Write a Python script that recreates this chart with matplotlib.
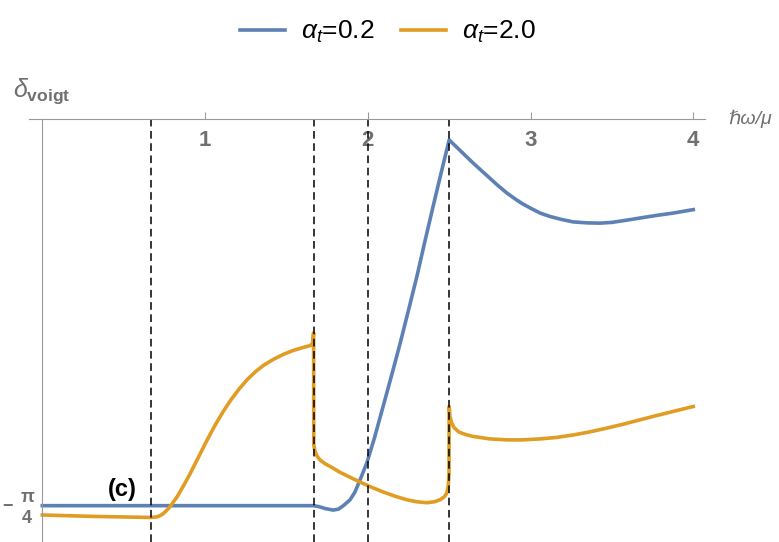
import numpy as np
import matplotlib
matplotlib.use('Agg')
import matplotlib.pyplot as plt

plt.rcParams['mathtext.fontset'] = 'custom'
plt.rcParams['mathtext.rm'] = 'Liberation Sans'
plt.rcParams['mathtext.it'] = 'Liberation Sans:italic'
plt.rcParams['mathtext.bf'] = 'Liberation Sans:bold'
plt.rcParams['font.family'] = ['Liberation Sans', 'DejaVu Sans']

# curves (x in hbar*omega/mu)
x_blue = [0, 1.667, 1.70, 1.74, 1.787, 1.82, 1.85, 1.891, 1.92, 1.953, 1.994,
          2.04, 2.094, 2.15, 2.199, 2.25, 2.301, 2.35, 2.401, 2.45, 2.5,
          2.55, 2.6, 2.647, 2.7, 2.75, 2.8, 2.854, 2.9, 2.95, 3.0, 3.059, 3.12,
          3.19, 3.262, 3.35, 3.428, 3.5, 3.6, 3.674, 3.77, 3.877, 4.0]
y_blue = [-0.787, -0.787, -0.789, -0.793, -0.796, -0.794, -0.787, -0.775, -0.760,
          -0.734, -0.700, -0.650, -0.585, -0.517, -0.456, -0.389, -0.321, -0.250,
          -0.178, -0.110, -0.042, -0.058, -0.074, -0.089, -0.105, -0.120, -0.135,
          -0.150, -0.161, -0.172, -0.181, -0.191, -0.198, -0.204, -0.209, -0.211,
          -0.2115, -0.210, -0.205, -0.201, -0.196, -0.191, -0.184]

x_orange = [0, 0.33, 0.667, 0.70, 0.72, 0.74, 0.76, 0.785, 0.83, 0.87, 0.908,
            0.96, 1.01, 1.06, 1.11, 1.16, 1.21, 1.26, 1.31, 1.36, 1.42, 1.48,
            1.54, 1.60, 1.645, 1.660, 1.667, 1.668, 1.675, 1.69, 1.707, 1.74,
            1.768, 1.829, 1.89, 1.953, 2.02, 2.094, 2.17, 2.24, 2.30, 2.363,
            2.41, 2.444, 2.47, 2.486, 2.495, 2.499, 2.5, 2.505, 2.515, 2.53,
            2.56, 2.6, 2.647, 2.75, 2.854, 2.95, 3.059, 3.16, 3.262, 3.36,
            3.469, 3.57, 3.674, 3.78, 3.877, 4.0]
y_orange = [-0.806, -0.809, -0.811, -0.810, -0.808, -0.804, -0.798, -0.789, -0.768,
            -0.745, -0.722, -0.688, -0.655, -0.624, -0.596, -0.571, -0.549, -0.530,
            -0.514, -0.501, -0.489, -0.479, -0.471, -0.465, -0.461, -0.457, -0.435,
            -0.663, -0.676, -0.687, -0.694, -0.702, -0.707, -0.719, -0.729, -0.739,
            -0.749, -0.759, -0.768, -0.775, -0.779, -0.781, -0.779, -0.775, -0.769,
            -0.761, -0.745, -0.720, -0.585, -0.605, -0.618, -0.628, -0.637, -0.642,
            -0.646, -0.651, -0.653, -0.653, -0.651, -0.648, -0.643, -0.637, -0.629,
            -0.621, -0.612, -0.603, -0.595, -0.585]

v_lines = [2 / 3, 5 / 3, 2.0, 2.5]
x_ticks = [1, 2, 3, 4]
labels = [r'$\alpha_t$=0.2', r'$\alpha_t$=2.0']

blue = '#5E81B5'
orange = '#E19C24'
gray = '#707070'

fig = plt.figure(figsize=(7.79, 5.42), dpi=100)
ax = fig.add_axes([0.0376, 0.0, 0.8676, 0.7799])

ax.plot(x_blue, y_blue, color=blue, lw=2.6, label=labels[0])
ax.plot(x_orange, y_orange, color=orange, lw=2.6, label=labels[1])
for xv in v_lines:
    ax.axvline(xv, color='black', lw=1.1, dashes=(5, 3))

ax.set_xlim(-0.080, 4.073)
ax.set_ylim(-0.861, 0)

for s in ['top', 'right']:
    ax.spines[s].set_visible(False)
ax.spines['bottom'].set_position(('data', 0))
ax.spines['left'].set_position(('data', 0))
ax.spines['bottom'].set_color('#999999')
ax.spines['left'].set_color('#999999')

ax.set_xticks(x_ticks)
ax.set_xticklabels([str(t) for t in x_ticks], fontsize=16, fontweight='bold', color=gray)
ax.tick_params(axis='x', direction='in', length=5, color='#999999', pad=8)
ax.set_yticks([-np.pi / 4])
ax.set_yticklabels([''])
ax.tick_params(axis='y', direction='in', length=5, color='#999999')

# -pi/4 label
ax.annotate('\u2212', xy=(0, -np.pi / 4), xytext=(-25, -1), textcoords='offset points',
            ha='center', va='center', fontsize=13, fontweight='bold', color=gray)
ax.annotate('\u03c0', xy=(0, -np.pi / 4), xytext=(-11, 5), textcoords='offset points',
            ha='center', va='center', fontsize=13, fontweight='bold', color=gray)
ax.annotate('4', xy=(0, -np.pi / 4), xytext=(-11.5, -9.5), textcoords='offset points',
            ha='center', va='center', fontsize=13, fontweight='bold', color=gray)

ax.text(0.49, -0.755, '(c)', fontsize=17, fontweight='bold', ha='center', va='center')

ax.text(1.034, 0, '\u210f\u03c9/\u03bc', transform=ax.get_yaxis_transform(),
        fontsize=14, fontstyle='italic', color=gray, ha='left', va='center', clip_on=False)
fig.text(0.0167, 0.821, r'$\delta_{\mathbf{voigt}}$', fontsize=18, color=gray,
         ha='left', va='baseline')

fig.legend(loc='center', bbox_to_anchor=(0.498, 0.941), ncol=2, frameon=False,
           fontsize=19, handlelength=1.7, columnspacing=1.0, handletextpad=0.6)

fig.savefig('out.png', dpi=100)
